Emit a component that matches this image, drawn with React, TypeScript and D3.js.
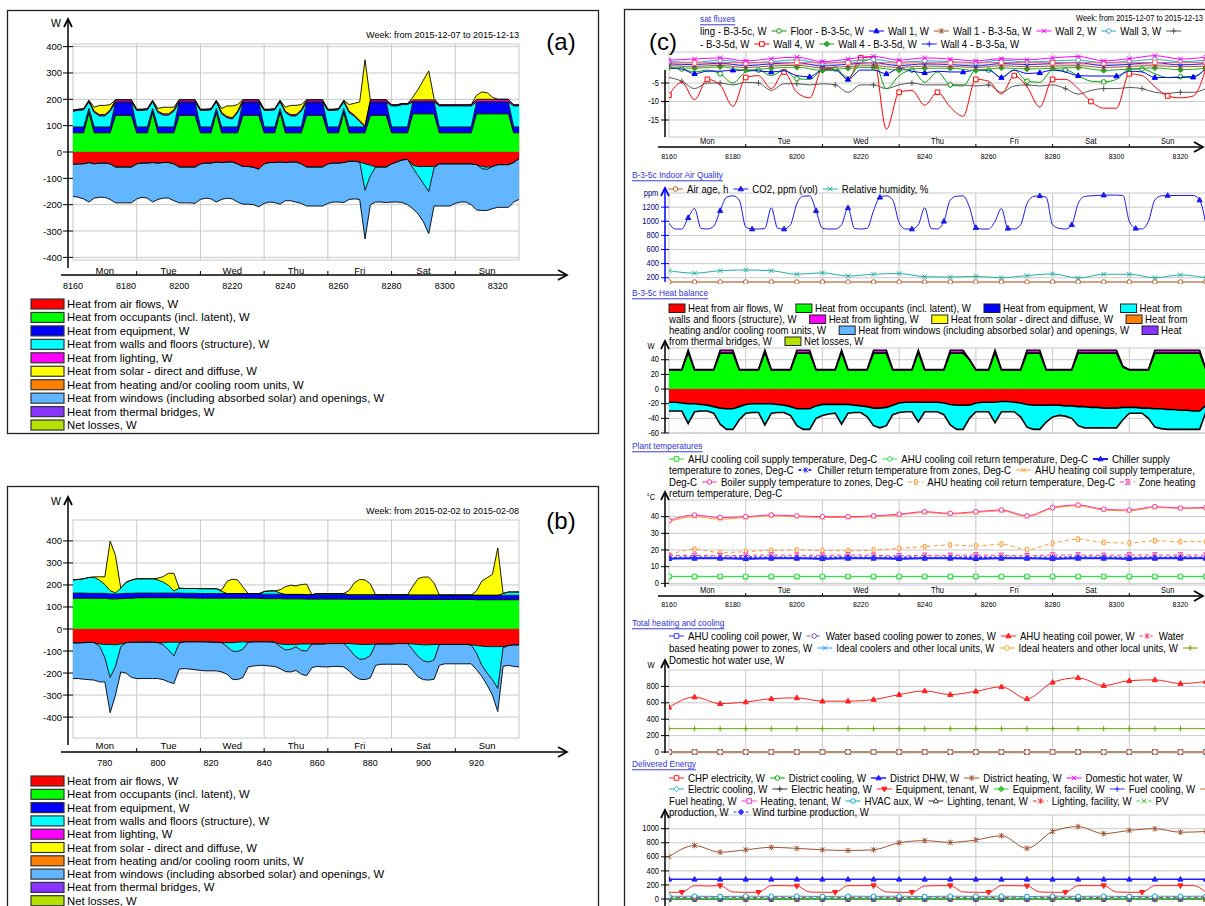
import { useEffect, useRef } from "react";
import * as d3 from "d3";

const FONT = "'Liberation Sans', Arial, Helvetica, sans-serif";
const DAYS = ["Mon", "Tue", "Wed", "Thu", "Fri", "Sat", "Sun"];

const heatNames = [
  "Heat from air flows, W",
  "Heat from occupants (incl. latent), W",
  "Heat from equipment, W",
  "Heat from walls and floors (structure), W",
  "Heat from lighting, W",
  "Heat from solar - direct and diffuse, W",
  "Heat from heating and/or cooling room units, W",
  "Heat from windows (including absorbed solar) and openings, W",
  "Heat from thermal bridges, W",
  "Net losses, W",
];
const heatColors = ["#ff0000", "#00ff00", "#0000ff", "#00ffff", "#ff00ff", "#ffff00", "#ff8000", "#62b6ff", "#8833ff", "#b5e000"];

// ---------- (a) week 2015-12-07 .. 2015-12-13 (hour of year, 2 h steps)
const hoursA = d3.range(8160, 8329, 2);
const occA = [
  73, 73, 73, 150, 73, 73, 73, 73, 139, 139, 139, 139,
  73, 73, 73, 150, 73, 73, 73, 73, 139, 139, 139, 139,
  73, 73, 73, 150, 73, 73, 73, 73, 139, 139, 139, 139,
  73, 73, 73, 150, 73, 73, 73, 73, 139, 139, 139, 139,
  73, 73, 73, 150, 73, 73, 73, 73, 139, 139, 139, 139,
  73, 73, 73, 73, 145, 145, 145, 145, 145, 73, 73, 73,
  73, 73, 73, 73, 145, 145, 145, 145, 145, 145, 145, 73,
  73,
];
const equipA = [
  22, 22, 22, 15, 22, 22, 22, 22, 50, 50, 50, 50,
  22, 22, 22, 15, 22, 22, 22, 22, 50, 50, 50, 50,
  22, 22, 22, 15, 22, 22, 22, 22, 50, 50, 50, 50,
  22, 22, 22, 15, 22, 22, 22, 22, 50, 50, 50, 50,
  22, 22, 22, 15, 22, 22, 22, 22, 50, 50, 50, 50,
  22, 22, 22, 22, 45, 45, 45, 45, 45, 22, 22, 22,
  22, 22, 22, 22, 45, 45, 45, 45, 45, 45, 45, 22,
  22,
];
const wallsGainA = [
  60, 63, 65, 25, 55, 42, 42, 60, 0, 0, 0, 0,
  63, 63, 65, 25, 55, 45, 45, 60, 0, 0, 0, 0,
  63, 63, 65, 25, 50, 35, 30, 55, 0, 0, 0, 0,
  63, 63, 65, 25, 55, 42, 42, 60, 0, 0, 0, 0,
  63, 63, 65, 25, 55, 40, 20, 0, 0, 0, 0, 0,
  80, 80, 85, 85, 0, 0, 0, 0, 0, 80, 80, 80,
  80, 80, 80, 80, 0, 0, 0, 0, 0, 0, 0, 80,
  80,
];
const wallsLossA = [
  0, 0, 0, 0, 0, 0, 0, 0, 0, 0, 0, 0,
  0, 0, 0, 0, 0, 0, 0, 0, 0, 0, 0, 0,
  0, 0, 0, 0, 0, 0, 0, 0, 0, 0, 0, 0,
  0, 0, 0, 0, 0, 0, 0, 0, 0, 0, 0, 0,
  0, 0, 0, 0, 0, 0, 0, -100, -40, 0, 0, 0,
  0, 0, 0, 0, -10, -35, -65, -95, -5, 0, 0, 0,
  0, 0, 0, 0, 0, -8, -8, 0, 0, 0, 0, 0,
  0,
];
const lightA = [
  4, 4, 4, 6, 5, 5, 5, 5, 9, 9, 9, 9,
  4, 4, 4, 6, 5, 5, 5, 5, 9, 9, 9, 9,
  4, 4, 4, 6, 5, 5, 5, 5, 9, 9, 9, 9,
  4, 4, 4, 6, 5, 5, 5, 5, 9, 9, 9, 9,
  4, 4, 4, 6, 5, 5, 5, 5, 9, 9, 9, 9,
  4, 4, 4, 4, 8, 8, 8, 8, 8, 4, 4, 4,
  4, 4, 4, 4, 10, 10, 10, 10, 10, 10, 10, 4,
  4,
];
const solarA = [
  0, 0, 0, 0, 15, 35, 35, 20, 0, 0, 0, 0,
  0, 0, 0, 0, 10, 25, 25, 10, 0, 0, 0, 0,
  0, 0, 0, 0, 15, 40, 45, 25, 0, 0, 0, 0,
  0, 0, 0, 0, 15, 35, 35, 20, 0, 0, 0, 0,
  0, 0, 0, 0, 25, 45, 70, 250, 0, 0, 0, 0,
  0, 0, 0, 0, 10, 40, 75, 110, 5, 0, 0, 0,
  0, 0, 0, 0, 15, 28, 25, 8, 0, 0, 0, 0,
  0,
];
const airA = [
  -47, -45, -45, -40, -45, -42, -42, -45, -57, -57, -57, -57,
  -45, -42, -42, -40, -42, -40, -40, -45, -57, -57, -57, -57,
  -45, -42, -42, -38, -40, -38, -38, -45, -55, -55, -58, -65,
  -45, -40, -40, -38, -40, -38, -38, -45, -57, -57, -57, -57,
  -45, -42, -42, -40, -35, -35, -38, -45, -50, -57, -57, -57,
  -45, -38, -30, -28, -50, -55, -55, -55, -55, -45, -45, -45,
  -45, -45, -45, -45, -48, -55, -58, -55, -48, -48, -48, -40,
  -25,
];
const windowsA = [
  -121, -127, -133, -150, -130, -130, -130, -135, -136, -136, -136, -136,
  -133, -130, -133, -150, -138, -135, -135, -140, -136, -136, -136, -138,
  -135, -133, -136, -152, -140, -137, -140, -145, -143, -143, -142, -143,
  -150, -150, -152, -160, -145, -147, -152, -150, -148, -148, -148, -148,
  -150, -148, -148, -152, -145, -143, -142, -185, -110, -133, -133, -135,
  -145, -152, -162, -172, -155, -145, -145, -160, -145, -160, -160, -160,
  -150, -145, -145, -155, -172, -159, -156, -160, -162, -162, -162, -150,
  -155,
];

// ---------- (b) week 2015-02-02 .. 2015-02-08
const hoursB = d3.range(768, 937, 2);
const occB = [
  140, 140, 140, 140, 140, 140, 140, 137, 137, 138, 140, 140,
  142, 142, 142, 142, 142, 142, 142, 142, 142, 141, 141, 141,
  140, 140, 140, 140, 140, 140, 140, 140, 140, 140, 140, 139,
  138, 138, 138, 138, 137, 137, 137, 137, 136, 136, 136, 136,
  136, 136, 136, 136, 135, 135, 135, 135, 135, 135, 135, 135,
  135, 135, 135, 135, 134, 134, 134, 134, 134, 134, 134, 134,
  134, 134, 134, 134, 133, 133, 133, 133, 133, 133, 133, 133,
  133,
];
const equipB = [
  23, 23, 23, 22, 22, 22, 22, 22, 22, 22, 22, 22,
  21, 21, 21, 21, 21, 21, 21, 21, 21, 21, 21, 21,
  21, 21, 21, 21, 21, 21, 21, 21, 21, 21, 21, 21,
  20, 20, 20, 20, 20, 20, 20, 20, 20, 20, 20, 20,
  20, 20, 20, 20, 20, 20, 20, 20, 20, 20, 20, 20,
  20, 20, 20, 20, 20, 20, 20, 20, 20, 20, 20, 20,
  20, 20, 20, 20, 20, 20, 20, 20, 20, 20, 20, 20,
  20,
];
const wallsGainB = [
  60, 62, 65, 72, 72, 60, 40, 15, 5, 25, 50, 60,
  65, 65, 65, 65, 60, 50, 35, 10, 22, 22, 22, 22,
  22, 22, 22, 22, 10, 0, 0, 0, 0, 0, 0, 0,
  12, 15, 15, 5, 0, 0, 0, 0, 0, 0, 5, 5,
  5, 5, 5, 5, 0, 0, 0, 0, 0, 0, 0, 0,
  0, 0, 0, 0, 0, 0, 0, 0, 0, 0, 0, 0,
  0, 0, 0, 0, 0, 0, 0, 0, 0, 8, 15, 15,
  15,
];
const solarB = [
  0, 0, 0, 0, 3, 15, 35, 225, 170, 0, 0, 0,
  0, 0, 0, 0, 8, 25, 55, 80, 0, 0, 0, 0,
  0, 0, 0, 0, 5, 55, 65, 62, 30, 0, 0, 0,
  0, 0, 0, 15, 35, 42, 38, 45, 48, 0, 0, 0,
  0, 0, 0, 0, 20, 55, 70, 68, 50, 0, 0, 0,
  0, 0, 0, 0, 40, 75, 82, 82, 55, 0, 0, 0,
  0, 0, 0, 0, 20, 65, 80, 95, 215, 0, 0, 0,
  0,
];
const airB = [
  -63, -63, -62, -60, -62, -68, -70, -70, -72, -68, -62, -60,
  -60, -60, -60, -60, -62, -62, -60, -60, -60, -58, -58, -58,
  -58, -58, -60, -60, -62, -62, -62, -60, -58, -60, -58, -58,
  -58, -58, -60, -68, -70, -70, -70, -68, -68, -68, -68, -68,
  -66, -66, -66, -66, -66, -68, -70, -70, -70, -68, -68, -68,
  -68, -66, -66, -66, -68, -70, -72, -72, -70, -70, -70, -70,
  -70, -70, -70, -72, -75, -78, -80, -80, -80, -80, -75, -72,
  -72,
];
const wallsLossB = [
  0, 0, 0, 0, 0, -10, -60, -150, -98, -12, 0, 0,
  0, 0, 0, 0, 0, -10, -35, -62, -5, 0, 0, 0,
  0, 0, 0, 0, 0, -18, -38, -42, -34, 0, 0, 0,
  0, 0, 0, -12, -25, -22, -10, -30, -32, 0, 0, 0,
  0, 0, 0, 0, -24, -52, -68, -65, -50, 0, 0, 0,
  0, 0, 0, 0, -27, -55, -73, -78, -70, 0, 0, 0,
  0, 0, 0, 0, -35, -87, -120, -150, -190, -5, 0, 0,
  0,
];
const windowsB = [
  -162, -162, -166, -170, -170, -162, -110, -160, -130, -115, -138, -160,
  -165, -165, -165, -165, -163, -158, -145, -126, -117, -122, -124, -127,
  -130, -132, -130, -130, -133, -125, -128, -128, -128, -112, -110, -107,
  -107, -110, -110, -100, -98, -103, -108, -107, -112, -107, -102, -104,
  -106, -104, -104, -106, -100, -95, -90, -95, -102, -97, -92, -92,
  -92, -94, -94, -96, -95, -93, -85, -82, -88, -95, -88, -88,
  -88, -88, -88, -86, -75, -50, -55, -70, -105, -85, -90, -98,
  -100,
];

// ---------- (c) heat fluxes, W (4 h steps, 43 points)
const hfWall4 = [-8.3, -4.8, -9.5, -4, -5.5, -11.3, -3.5, -3, -6.5, -2, -7.5, -9, -1.2, -1, -4, 1.8, 2, -17.5, -7.5, -7, -11, -7.5, -11.5, -14, -4, -4.5, -8, -3, -6, -11.5, -4, -4, -6.5, -10, -11.8, -11.8, -2.5, -3, -6, -8.5, -9, -8.5, -1];
const hfCeilD = [-3.5, -4.5, -6.5, -5, -5, -5.5, -4.8, -5, -7, -5.2, -5.2, -5.5, -5.2, -5.5, -7.5, -5.5, -5.5, -6.5, -5.5, -5, -5.5, -5.5, -5.5, -5.5, -5.8, -5.5, -7.5, -5.8, -5.5, -5.8, -5.5, -6.5, -8, -7, -6.5, -6.5, -6.2, -6.5, -7.5, -7.8, -7.5, -7.5, -6.5];
const hfFloor = [-1, -1.2, -2, -1.5, -2.5, -5, -2, -1.5, -3, -1.5, -3.8, -4, -1.5, -1.2, -3.5, 0.5, 1.5, -6.5, -3, -1.5, -4.8, -2, -5.5, -5.8, -1.5, -1.5, -3.5, -1.5, -4.5, -4.8, -1.5, -1.5, -3, -4.5, -4.7, -4, -1.2, -1.2, -2.5, -3.5, -3.3, -3.2, -1];
const hfWall1 = [-1, -1.2, -2.5, -1.8, -1.8, -1.5, -1.6, -1.7, -2, -1.7, -3, -3.3, -1.5, -1.5, -4, -1.5, -1.5, -2.5, -1, -1.8, -2.2, -1.8, -2, -2, -1.5, -1.5, -3.5, -1.5, -2.4, -2.2, -1.5, -2, -3, -3.1, -3.1, -3.1, -1.8, -2, -3.5, -3.5, -3.5, -3.4, -1];
// 8 h steps, 22 points
const hfCeilC = [0.5, 0.4, 0.6, 0.4, 0.5, 0.6, 0.4, 0.5, 0.6, 0.4, 0.5, 0.5, 0.4, 0.6, 0.5, 0.5, 0.6, 0.4, 0.5, 0.6, 0.5, 0.6];
const hfWall1a = [-0.3, -0.5, -0.2, -0.8, -0.4, -0.2, -0.9, -0.5, -0.3, -0.8, -0.4, -0.5, -0.8, -0.3, -0.6, -0.4, -0.3, -0.8, -0.5, -0.3, -0.6, -0.4];
const hfWall2 = [1.2, 1.5, 1.8, 1.0, 1.6, 2.0, 0.8, 1.5, 2.2, 1.2, 1.8, 1.5, 1.0, 1.6, 1.3, 1.8, 2.2, 1.0, 1.6, 2.4, 1.5, 2.0];
const hfWall3 = [0.8, 0.6, 1.2, 0.5, 0.8, 1.3, 0.4, 0.9, 1.4, 0.6, 1.0, 0.8, 0.5, 1.2, 0.7, 1.0, 1.2, 0.5, 0.9, 1.4, 0.8, 1.2];
const hfWall4d = [-0.8, -1.0, -0.6, -1.5, -1.0, -0.7, -1.6, -1.0, -0.8, -1.5, -1.0, -1.0, -1.6, -0.9, -1.2, -1.0, -0.8, -1.6, -1.2, -0.9, -1.4, -1.0];
const hfWall4a = [0.2, 0.0, 0.4, -0.3, 0.2, 0.5, -0.4, 0.1, 0.5, -0.3, 0.2, 0.0, -0.4, 0.3, 0.0, 0.3, 0.5, -0.3, 0.1, 0.5, -0.1, 0.3];

// ---------- (c) indoor air quality
const iaqCo2 = [
  970, 890, 890, 1050, 1180, 900, 890, 930, 1150, 1340, 1360, 1300, 920,
  890, 890, 900, 1190, 900, 890, 950, 1250, 1355, 1360, 1150, 900,
  890, 890, 950, 1190, 900, 890, 900, 1150, 1340, 1360, 1300, 980,
  890, 890, 950, 1190, 900, 890, 1000, 1300, 1355, 1360, 1200, 910,
  890, 890, 1000, 1180, 900, 890, 950, 1250, 1350, 1360, 1340, 950,
  900, 890, 950, 1250, 1350, 1360, 1365, 1370, 1370, 1370, 1365, 1000,
  900, 890, 1000, 1300, 1360, 1365, 1365, 1365, 1365, 1365, 1300, 950,
];
const iaqRh = [300, 265, 300, 310, 300, 250, 270, 225, 250, 260, 215, 210, 220, 200, 230, 255, 195, 250, 250, 200, 240, 200];
const iaqAge = [0.6, 0.6, 0.6, 0.6, 0.6, 0.6, 0.6, 0.6, 0.6, 0.6, 0.6, 0.6, 0.6, 0.6, 0.6, 0.6, 0.6, 0.6, 0.6, 0.6, 0.6, 0.6];

// ---------- (c) zone heat balance (2 h steps)
const occC = [
  26, 26, 26, 50, 26, 26, 26, 26, 49, 49, 49, 26,
  26, 26, 26, 50, 26, 26, 26, 26, 49, 49, 49, 26,
  26, 26, 26, 50, 26, 26, 26, 26, 49, 49, 49, 26,
  26, 26, 26, 50, 26, 26, 26, 26, 49, 49, 49, 40,
  26, 26, 26, 50, 26, 26, 26, 26, 49, 49, 49, 26,
  26, 26, 26, 26, 49, 49, 49, 49, 49, 49, 49, 30,
  26, 26, 26, 26, 49, 49, 49, 49, 49, 49, 49, 49,
  26,
];
const lightC = [
  0.5, 0.5, 0.5, 3, 0.5, 0.5, 0.5, 0.5, 4, 4, 4, 0.5,
  0.5, 0.5, 0.5, 3, 0.5, 0.5, 0.5, 0.5, 4, 4, 4, 0.5,
  0.5, 0.5, 0.5, 3, 0.5, 0.5, 0.5, 0.5, 4, 4, 4, 0.5,
  0.5, 0.5, 0.5, 3, 0.5, 0.5, 0.5, 0.5, 4, 4, 4, 0.5,
  0.5, 0.5, 0.5, 3, 0.5, 0.5, 0.5, 0.5, 4, 4, 4, 0.5,
  0.5, 0.5, 0.5, 0.5, 4, 4, 4, 4, 4, 4, 4, 1,
  0.5, 0.5, 0.5, 0.5, 4, 4, 4, 4, 4, 4, 4, 4,
  0.5,
];
const airC = [
  -18, -18, -19, -20, -20, -21, -22, -24, -26, -27, -27, -24,
  -21, -20, -20, -20, -20, -21, -22, -24, -27, -27, -27, -23,
  -21, -21, -21, -21, -21, -22, -23, -24, -26, -26, -25, -22,
  -19, -18, -18, -18, -18, -18, -18, -19, -21, -22, -22, -22,
  -19, -18, -18, -18, -17, -17, -18, -19, -21, -22, -22, -22,
  -22, -22, -23, -23, -24, -24, -25, -25, -26, -26, -26, -25,
  -25, -25, -26, -26, -27, -27, -28, -28, -29, -29, -30, -30,
  -22,
];
const wallsC = [
  -12, -12, -11, -27, -11, -9, -8, -9, -22, -28, -28, -18,
  -12, -12, -12, -29, -13, -11, -10, -12, -23, -28, -28, -17,
  -15, -13, -12, -27, -12, -10, -9, -14, -24, -27, -25, -13,
  -13, -13, -13, -27, -13, -13, -13, -16, -28, -33, -33, -18,
  -12, -13, -13, -28, -14, -14, -13, -19, -31, -33, -33, -23,
  -16, -14, -14, -17, -26, -29, -28, -28, -27, -27, -27, -17,
  -8, -8, -7, -14, -25, -27, -27, -27, -26, -26, -25, -25,
  -9,
];

// ---------- (c) plant temperatures, Deg-C (8 h steps)
const ptCoolSup = [4, 4, 4, 4, 4, 4, 4, 4, 4, 4, 4, 4, 4, 4, 4, 4, 4, 4, 4, 4, 4, 4];
const ptCoolRet = [4.2, 4.2, 4.2, 4.2, 4.2, 4.2, 4.2, 4.2, 4.2, 4.2, 4.2, 4.2, 4.2, 4.2, 4.2, 4.2, 4.2, 4.2, 4.2, 4.2, 4.2, 4.2];
const ptChSup = [14.8, 15, 15, 14.8, 15, 15, 14.8, 15, 15, 14.8, 15, 15, 14.8, 15, 15, 14.8, 15, 15, 14.8, 15, 15, 15];
const ptChRet = [15.3, 15.5, 15.4, 15.6, 15.5, 15.4, 15.5, 15.6, 15.4, 15.5, 15.4, 15.5, 15.6, 15.5, 15.4, 15.5, 15.6, 15.5, 15.4, 15.5, 15.6, 15.5];
const ptAhuHeatSup = [37, 40, 38.5, 39.5, 40.5, 40, 39.5, 39.5, 40, 41, 42.5, 41.5, 42.5, 43.5, 40, 45, 46.5, 44, 43.5, 45.5, 45, 45];
const ptBoiler = [37.7, 41, 39.5, 40, 41, 40.5, 40, 40, 40.5, 41.5, 43, 42, 43, 44, 40.5, 45.5, 47, 44.5, 44, 46, 45.2, 45.5];
const ptAhuHeatRet = [17, 20.5, 18.5, 19, 19.8, 20, 19.8, 19.5, 20, 21, 22, 23, 22.4, 23.5, 20.2, 24, 26.5, 24.5, 24.2, 25.5, 25, 25];
const ptZoneRet = [16.5, 16.8, 16.5, 16.8, 17, 16.8, 16.8, 17, 16.8, 16.5, 16.8, 16.8, 17, 16.8, 16.5, 17, 17, 16.8, 17, 17, 17, 17];

// ---------- (c) total heating and cooling, W (8 h steps)
const thAhuHeat = [545, 670, 590, 610, 650, 660, 620, 620, 640, 700, 745, 700, 740, 795, 650, 850, 905, 810, 870, 880, 835, 860];
const thDhw = [285, 285, 285, 285, 285, 285, 285, 285, 285, 285, 285, 285, 285, 285, 285, 285, 285, 285, 285, 285, 285, 285];
const thZero = [0, 0, 0, 0, 0, 0, 0, 0, 0, 0, 0, 0, 0, 0, 0, 0, 0, 0, 0, 0, 0, 0];

// ---------- (c) delivered energy, W
const deDistHeat = [602, 760, 665, 700, 735, 720, 700, 690, 700, 800, 830, 805, 840, 900, 720, 960, 1030, 930, 975, 1000, 950, 960];
const deDistDhw = [280, 280, 280, 280, 280, 280, 280, 280, 280, 280, 280, 280, 280, 280, 280, 280, 280, 280, 280, 280, 280, 280];
const deEquipTen = [
  95, 95, 190, 185, 190, 100,
  95, 95, 190, 190, 185, 100,
  95, 95, 190, 190, 190, 100,
  95, 95, 185, 190, 190, 100,
  95, 95, 190, 190, 185, 100,
  95, 95, 190, 190, 190, 100,
  95, 95, 190, 190, 190, 190,
  95,
];
const deHvac = [38, 40, 36, 40, 38, 40, 36, 40, 38, 40, 36, 40, 38, 40, 36, 40, 38, 40, 36, 40, 38, 40];
const deLightFac = [25, 20, 28, 20, 25, 20, 28, 20, 25, 20, 28, 20, 25, 20, 28, 20, 25, 20, 28, 20, 25, 20];
const deSmall = [8, 6, 9, 6, 8, 6, 9, 6, 8, 6, 9, 6, 8, 6, 9, 6, 8, 6, 9, 6, 8, 6];

// ================= drawing helpers
function text(g: any, x: number, y: number, s: string, o: any = {}) {
  const sx = o.sx ?? 1;
  const t = g
    .append("text")
    .attr("transform", `translate(${x},${y}) scale(${sx},1)`)
    .attr("font-family", FONT)
    .attr("font-size", o.size ?? 11)
    .attr("fill", o.color ?? "#000")
    .attr("text-anchor", o.anchor ?? "start")
    .attr("dominant-baseline", "central")
    .text(s);
  if (o.underline) t.attr("text-decoration", "underline");
  return t;
}

function arrowUp(g: any, x: number, y: number, c = "#000") {
  g.append("path").attr("d", `M${x - 4},${y + 8}L${x},${y}L${x + 4},${y + 8}`)
    .attr("fill", "none").attr("stroke", c).attr("stroke-width", 1.7);
}
function arrowRight(g: any, x: number, y: number) {
  g.append("path").attr("d", `M${x - 9},${y - 5}L${x},${y}L${x - 9},${y + 5}`)
    .attr("fill", "none").attr("stroke", "#000").attr("stroke-width", 1.7);
}

function mark(g: any, m: string, x: number, y: number, c: string, r = 2.3) {
  if (m === "none") return;
  let d = "";
  let fill = "none";
  switch (m) {
    case "sq": d = `M${x - r},${y - r}h${2 * r}v${2 * r}h${-2 * r}Z`; fill = "#fff"; break;
    case "ci": d = `M${x - r},${y}a${r},${r} 0 1,0 ${2 * r},0a${r},${r} 0 1,0 ${-2 * r},0`; fill = "#fff"; break;
    case "tri": d = `M${x},${y - r - 0.5}L${x + r + 0.3},${y + r - 0.5}L${x - r - 0.3},${y + r - 0.5}Z`; fill = c; break;
    case "triO": d = `M${x},${y - r - 0.5}L${x + r + 0.3},${y + r - 0.5}L${x - r - 0.3},${y + r - 0.5}Z`; fill = "#fff"; break;
    case "triD": d = `M${x},${y + r + 0.5}L${x + r + 0.3},${y - r + 0.5}L${x - r - 0.3},${y - r + 0.5}Z`; fill = c; break;
    case "dia": d = `M${x},${y - r - 0.5}L${x + r + 0.5},${y}L${x},${y + r + 0.5}L${x - r - 0.5},${y}Z`; fill = "#fff"; break;
    case "diaF": d = `M${x},${y - r - 0.5}L${x + r + 0.5},${y}L${x},${y + r + 0.5}L${x - r - 0.5},${y}Z`; fill = c; break;
    case "x": d = `M${x - r},${y - r}L${x + r},${y + r}M${x - r},${y + r}L${x + r},${y - r}`; break;
    case "plus": d = `M${x - r},${y}H${x + r}M${x},${y - r - 0.5}V${y + r + 0.5}`; break;
    case "star": d = `M${x - r},${y - r}L${x + r},${y + r}M${x - r},${y + r}L${x + r},${y - r}M${x},${y - r - 0.5}V${y + r + 0.5}`; break;
    case "bar": d = `M${x - 1.3},${y - r}h2.6v${2 * r}h-2.6Z`; fill = "#fff"; break;
    case "hour": d = `M${x - r},${y - r}H${x + r}L${x - r},${y + r}H${x + r}Z`; fill = "#fff"; break;
  }
  g.append("path").attr("d", d).attr("fill", fill).attr("stroke", c).attr("stroke-width", 1);
}

function stackLayers(layers: any[]) {
  const n = layers[0].values.length;
  const pos = new Array(n).fill(0);
  const neg = new Array(n).fill(0);
  return layers.map((l) => ({
    ...l,
    band: l.values.map((v: number, i: number) => {
      if (l.side > 0) {
        const lo = pos[i];
        pos[i] += v;
        return [lo, pos[i]];
      }
      const hi = neg[i];
      neg[i] += v;
      return [neg[i], hi];
    }),
  }));
}

// fills first, then a thin black edge on the outer side of each layer
function drawStack(g: any, hours: number[], x: any, y: any, layers: any[], edgeW: number) {
  const area = d3.area<number[]>().x((_, i) => x(hours[i])).y0((d) => y(d[0])).y1((d) => y(d[1]));
  const bands = stackLayers(layers);
  bands.forEach((b) => g.append("path").attr("d", area(b.band)).attr("fill", b.color).attr("stroke", b.color).attr("stroke-width", 0.3));
  bands.forEach((b) => {
    const edge = d3.line<number[]>().x((_, i) => x(hours[i])).y((d) => y(b.side > 0 ? d[1] : d[0]));
    g.append("path").attr("d", edge(b.band)).attr("fill", "none").attr("stroke", "#000").attr("stroke-width", edgeW);
  });
}

// ================= panels (a) and (b)
function stackPanel(svg: any, c: any) {
  const g = svg.append("g");
  g.append("rect").attr("x", c.box[0] + 0.5).attr("y", c.box[1] + 0.5).attr("width", c.box[2]).attr("height", c.box[3])
    .attr("fill", "#fff").attr("stroke", "#222").attr("stroke-width", 1.3);
  const [px0, px1, py0, py1] = c.plot;
  const h0 = c.hours[0];
  const x = d3.scaleLinear().domain([h0, c.hours[c.hours.length - 1]]).range([px0, px1]);
  const y = d3.scaleLinear().domain(c.yDomain).range([py1, py0]);
  const ticks = d3.range(-400, 401, 100);
  const edges = d3.range(1, 7).map((d) => h0 + 24 * d);

  const grid = g.append("g").attr("stroke", "#c9c9c9").attr("fill", "none");
  grid.append("rect").attr("x", px0).attr("y", py0).attr("width", px1 - px0).attr("height", py1 - py0);
  ticks.forEach((v) => grid.append("line").attr("x1", px0).attr("x2", px1).attr("y1", y(v)).attr("y2", y(v)));
  edges.forEach((h) => grid.append("line").attr("x1", x(h)).attr("x2", x(h)).attr("y1", py0).attr("y2", py1));

  drawStack(g, c.hours, x, y, c.layers, 0.9);

  // y axis
  g.append("line").attr("x1", c.yAxisX).attr("x2", c.yAxisX).attr("y1", c.yAxisTop).attr("y2", c.yAxisBottom)
    .attr("stroke", "#000").attr("stroke-width", 1.5);
  arrowUp(g, c.yAxisX, c.yAxisTop);
  text(g, c.yAxisX - 12, c.yAxisTop + 4, "W", { size: 10.5, anchor: "middle" });
  ticks.forEach((v) => {
    g.append("line").attr("x1", c.yAxisX - 5).attr("x2", px0).attr("y1", y(v)).attr("y2", y(v)).attr("stroke", "#000");
    text(g, c.yAxisX - 6, y(v), String(v), { size: 9.5, anchor: "end" });
  });

  // x axis
  g.append("line").attr("x1", 61).attr("x2", 566).attr("y1", c.xAxisY).attr("y2", c.xAxisY).attr("stroke", "#000").attr("stroke-width", 1.5);
  arrowRight(g, 567, c.xAxisY);
  edges.forEach((h) => g.append("line").attr("x1", x(h)).attr("x2", x(h)).attr("y1", c.xAxisY - 4).attr("y2", c.xAxisY).attr("stroke", "#000"));
  DAYS.forEach((d, i) => text(g, x(h0 + 24 * i + 12), c.dayY, d, { size: 9.5, anchor: "middle" }));
  c.numTicks.forEach((v: number) => text(g, x(v), c.numY, String(v), { size: 9, anchor: "middle" }));

  text(g, px1, c.weekY, c.week, { size: 9, anchor: "end" });
  text(g, 561, c.letterY, c.letter, { size: 24, anchor: "middle" });

  // legend
  heatNames.forEach((nm, i) => {
    const ly = c.legY + i * c.legDy;
    g.append("rect").attr("x", 31).attr("y", ly - 5).attr("width", 33).attr("height", 10)
      .attr("fill", heatColors[i]).attr("stroke", "#333").attr("stroke-width", 1.2);
    text(g, 67, ly, nm, { size: 11.3 });
  });
}

// ================= panel (c)
const CX0 = 669;
const CX1 = 1206;
const EDGES_C = [8184, 8208, 8232, 8256, 8280, 8304];
const SX = 0.92;

function frameC(g: any, x: any, y: any, top: number, bottom: number, grid: number[]) {
  const gg = g.append("g").attr("stroke", "#c9c9c9").attr("fill", "none");
  gg.append("rect").attr("x", CX0).attr("y", top).attr("width", CX1 - CX0).attr("height", bottom - top);
  grid.forEach((v) => gg.append("line").attr("x1", CX0).attr("x2", CX1).attr("y1", y(v)).attr("y2", y(v)));
  EDGES_C.forEach((h) => gg.append("line").attr("x1", x(h)).attr("x2", x(h)).attr("y1", top).attr("y2", bottom));
}

function yAxisC(g: any, y: any, o: any) {
  const col = o.color ?? "#000";
  g.append("line").attr("x1", 665).attr("x2", 665).attr("y1", o.top).attr("y2", o.bottom).attr("stroke", col).attr("stroke-width", 1.5);
  if (o.arrow) arrowUp(g, 665, o.top, col);
  o.ticks.forEach((v: number) => {
    g.append("line").attr("x1", 661).attr("x2", 669).attr("y1", y(v)).attr("y2", y(v)).attr("stroke", col);
    text(g, 659, y(v), String(v), { size: 8.5, sx: 0.88, anchor: "end", color: o.labelColor ?? "#000" });
  });
  if (o.unit) text(g, 651, o.top + 5, o.unit, { size: 8.5, sx: 0.88, anchor: "middle", color: o.labelColor ?? "#000" });
}

function xAxisC(g: any, x: any, dayY: number, axisY: number, numY: number) {
  DAYS.forEach((d, i) => text(g, x(8160 + 24 * i + 12), dayY, d, { size: 8.5, sx: 0.88, anchor: "middle" }));
  g.append("line").attr("x1", 658).attr("x2", 1202).attr("y1", axisY).attr("y2", axisY).attr("stroke", "#000").attr("stroke-width", 1.4);
  arrowRight(g, 1203, axisY);
  EDGES_C.forEach((h) => g.append("line").attr("x1", x(h)).attr("x2", x(h)).attr("y1", axisY - 3).attr("y2", axisY).attr("stroke", "#000"));
  d3.range(8160, 8321, 20).forEach((v) => text(g, x(v), numY, String(v), { size: 8, sx: 0.88, anchor: "middle" }));
}

function drawLines(g: any, x: any, y: any, series: any[]) {
  series.forEach((s) => {
    const n = s.values.length;
    const hx = (i: number) => 8160 + (i * 168) / (n - 1);
    const line = d3.line<number>().x((_, i) => x(hx(i))).y((v) => y(v)).curve(d3.curveMonotoneX);
    g.append("path").attr("d", line(s.values)).attr("fill", "none").attr("stroke", s.color)
      .attr("stroke-width", s.w ?? 1).attr("stroke-dasharray", s.dash ?? null);
    const every = s.every ?? 1;
    const off = s.off ?? 0;
    s.values.forEach((v: number, i: number) => {
      if (i >= off && (i - off) % every === 0) mark(g, s.mark, x(hx(i)), y(v), s.color);
    });
  });
}

function legendRow(g: any, x0: number, y: number, parts: any[]) {
  let cx = x0;
  parts.forEach((p, k) => {
    if (typeof p === "string") {
      const t = text(g, cx, y, p, { size: 10.5, sx: SX });
      const next = parts[k + 1];
      cx += t.node().getComputedTextLength() * SX + (next && next.sw ? 13 : 5);
    } else if (p.sw) {
      g.append("rect").attr("x", cx).attr("y", y - 4).attr("width", 16).attr("height", 8.5)
        .attr("fill", p.sw).attr("stroke", "#222");
      cx += 19;
    } else {
      g.append("line").attr("x1", cx).attr("x2", cx + 15).attr("y1", y).attr("y2", y)
        .attr("stroke", p.color).attr("stroke-width", p.w ?? 1).attr("stroke-dasharray", p.dash ?? null);
      mark(g, p.mark, cx + 7.5, y, p.color);
      cx += 19;
    }
  });
}

function clip(svg: any, id: string, top: number, bottom: number) {
  svg.select("defs").append("clipPath").attr("id", id).append("rect")
    .attr("x", CX0).attr("y", top).attr("width", CX1 - CX0).attr("height", bottom - top);
  return `url(#${id})`;
}

function panelC(svg: any) {
  const g = svg.append("g");
  g.append("rect").attr("x", 624.5).attr("y", 9.5).attr("width", 700).attr("height", 1000)
    .attr("fill", "#fff").attr("stroke", "#222").attr("stroke-width", 1.3);
  const x = d3.scaleLinear().domain([8160, 8328]).range([CX0, CX1]);
  const titleOpts = { size: 9.5, sx: 0.88, color: "#3333dd", underline: true };

  // ---- heat fluxes
  const hf = {
    ceilC: { color: "#ff6060", mark: "sq", values: hfCeilC, off: 1, every: 2 },
    floor: { color: "#00a000", mark: "ci", values: hfFloor, every: 3, off: 1 },
    wall1: { color: "#0000ff", mark: "tri", values: hfWall1, every: 3, off: 2 },
    wall1a: { color: "#a0522d", mark: "star", values: hfWall1a },
    wall2: { color: "#ff00ff", mark: "x", values: hfWall2 },
    wall3: { color: "#22aacc", mark: "dia", values: hfWall3 },
    ceilD: { color: "#555555", mark: "plus", values: hfCeilD, every: 3, off: 1 },
    wall4: { color: "#ff0000", mark: "sq", values: hfWall4, every: 3, off: 0 },
    wall4d: { color: "#22aa22", mark: "diaF", values: hfWall4d },
    wall4a: { color: "#2222ff", mark: "plus", values: hfWall4a },
  };
  const yHF = d3.scaleLinear().domain([-19.6, 3.4]).range([137, 52]);
  frameC(g, x, yHF, 52, 137, [0, -5, -10, -15]);
  const gHF = g.append("g").attr("clip-path", clip(svg, "cHF", 52, 137));
  drawLines(gHF, x, yHF, [hf.ceilD, hf.wall4, hf.floor, hf.wall1, hf.wall4d, hf.wall1a, hf.wall4a, hf.wall3, hf.ceilC, hf.wall2]);
  yAxisC(g, yHF, { top: 70, bottom: 137, ticks: [-5, -10, -15] });
  xAxisC(g, x, 141, 147, 156);
  text(g, 700, 19, "sat fluxes", titleOpts);
  text(g, 1203, 18, "Week: from 2015-12-07 to 2015-12-13", { size: 8.5, sx: 0.88, anchor: "end" });
  text(g, 663, 41, "(c)", { size: 24, anchor: "middle" });
  legendRow(g, 700, 31, ["ling - B-3-5c, W", hf.floor, "Floor - B-3-5c, W", hf.wall1, "Wall 1, W", hf.wall1a, "Wall 1 - B-3-5a, W", hf.wall2, "Wall 2, W", hf.wall3, "Wall 3, W", hf.ceilD]);
  legendRow(g, 700, 44, ["- B-3-5d, W", hf.wall4, "Wall 4, W", hf.wall4d, "Wall 4 - B-3-5d, W", hf.wall4a, "Wall 4 - B-3-5a, W"]);

  // ---- indoor air quality
  const iaq = {
    age: { color: "#c0602a", mark: "ci", values: iaqAge },
    co2: { color: "#1a1aee", mark: "tri", values: iaqCo2, every: 5, off: 3 },
    rh: { color: "#20b0a0", mark: "x", values: iaqRh },
  };
  const yIAQ = d3.scaleLinear().domain([140, 1400]).range([282, 193]).clamp(true);
  frameC(g, x, yIAQ, 193, 282, [200, 400, 600, 800, 1000, 1200]);
  const gIAQ = g.append("g").attr("clip-path", clip(svg, "cIAQ", 190, 284));
  drawLines(gIAQ, x, yIAQ, [iaq.age, iaq.rh, iaq.co2]);
  yAxisC(g, yIAQ, { top: 188, bottom: 282, ticks: [200, 400, 600, 800, 1000, 1200], arrow: true, color: "#0000ff", labelColor: "#000080", unit: "ppm" });
  text(g, 632, 175, "B-3-5c Indoor Air Quality", titleOpts);
  legendRow(g, 668, 189, [iaq.age, "Air age, h", iaq.co2, "CO2, ppm (vol)", iaq.rh, "Relative humidity, %"]);

  // ---- heat balance
  const yHB = d3.scaleLinear().domain([-60, 56]).range([433, 348]);
  frameC(g, x, yHB, 348, 433, [-60, -40, -20, 0, 20, 40]);
  const gHB = g.append("g").attr("clip-path", clip(svg, "cHB", 348, 433));
  drawStack(gHB, hoursA, x, yHB, [
    { values: occC, side: 1, color: heatColors[1] },
    { values: lightC, side: 1, color: heatColors[4] },
    { values: airC, side: -1, color: heatColors[0] },
    { values: wallsC, side: -1, color: heatColors[3] },
  ], 1.6);
  yAxisC(g, yHB, { top: 341, bottom: 433, ticks: [-60, -40, -20, 0, 20, 40], arrow: true, unit: "W" });
  text(g, 632, 293, "B-3-5c Heat balance", titleOpts);
  const sw = (i: number) => ({ sw: heatColors[i] });
  legendRow(g, 669, 308, [sw(0), "Heat from air flows, W", sw(1), "Heat from occupants (incl. latent), W", sw(2), "Heat from equipment, W", sw(3), "Heat from"]);
  legendRow(g, 669, 319, ["walls and floors (structure), W", sw(4), "Heat from lighting, W", sw(5), "Heat from solar - direct and diffuse, W", sw(6), "Heat from"]);
  legendRow(g, 669, 330, ["heating and/or cooling room units, W", sw(7), "Heat from windows (including absorbed solar) and openings, W", sw(8), "Heat"]);
  legendRow(g, 669, 341, ["from thermal bridges, W", sw(9), "Net losses, W"]);

  // ---- plant temperatures
  const pt = {
    coolSup: { color: "#22dd22", mark: "sq", values: ptCoolSup },
    coolRet: { color: "#33dd55", mark: "ci", values: ptCoolRet, off: 0 },
    chSup: { color: "#1a1aff", mark: "tri", values: ptChSup, w: 2 },
    chRet: { color: "#3333ff", mark: "star", values: ptChRet, dash: "3,2", w: 2 },
    heatSup: { color: "#ff9933", mark: "x", values: ptAhuHeatSup },
    boiler: { color: "#ff3399", mark: "ci", values: ptBoiler },
    heatRet: { color: "#ff9933", mark: "bar", values: ptAhuHeatRet, dash: "4,3" },
    zoneRet: { color: "#ff3399", mark: "hour", values: ptZoneRet, dash: "4,3" },
  };
  const yPT = d3.scaleLinear().domain([-1, 50]).range([585, 500]);
  frameC(g, x, yPT, 500, 585, [0, 10, 20, 30, 40]);
  const gPT = g.append("g").attr("clip-path", clip(svg, "cPT", 500, 587));
  drawLines(gPT, x, yPT, [pt.coolSup, pt.coolRet, pt.heatRet, pt.zoneRet, pt.chSup, pt.chRet, pt.heatSup, pt.boiler]);
  yAxisC(g, yPT, { top: 492, bottom: 587, ticks: [0, 10, 20, 30, 40], arrow: true, unit: "°C" });
  xAxisC(g, x, 590, 596, 604);
  text(g, 632, 446, "Plant temperatures", titleOpts);
  legendRow(g, 669, 459, [pt.coolSup, "AHU cooling coil supply temperature, Deg-C", pt.coolRet, "AHU cooling coil return temperature, Deg-C", pt.chSup, "Chiller supply"]);
  legendRow(g, 669, 470, ["temperature to zones, Deg-C", pt.chRet, "Chiller return temperature from zones, Deg-C", pt.heatSup, "AHU heating coil supply temperature,"]);
  legendRow(g, 669, 482, ["Deg-C", pt.boiler, "Boiler supply temperature to zones, Deg-C", pt.heatRet, "AHU heating coil return temperature, Deg-C", pt.zoneRet, "Zone heating"]);
  legendRow(g, 669, 493, ["return temperature, Deg-C"]);

  // ---- total heating and cooling
  const th = {
    coolP: { color: "#3333ff", mark: "sq", values: thZero },
    waterCool: { color: "#7744cc", mark: "ci", values: thZero, dash: "3,2" },
    heatP: { color: "#ff2020", mark: "tri", values: thAhuHeat },
    waterHeat: { color: "#ff3366", mark: "star", values: thZero, dash: "3,2" },
    idealCool: { color: "#3399ff", mark: "x", values: thZero },
    idealHeat: { color: "#ff9900", mark: "dia", values: thZero },
    dhw: { color: "#66aa00", mark: "plus", values: thDhw },
  };
  const yTH = d3.scaleLinear().domain([-12, 1000]).range([753, 670]);
  frameC(g, x, yTH, 670, 753, [0, 200, 400, 600, 800]);
  const gTH = g.append("g").attr("clip-path", clip(svg, "cTH", 668, 756));
  drawLines(gTH, x, yTH, [th.dhw, th.coolP, th.waterCool, th.waterHeat, th.idealCool, th.idealHeat, th.heatP]);
  yAxisC(g, yTH, { top: 660, bottom: 753, ticks: [0, 200, 400, 600, 800], arrow: true, unit: "W" });
  text(g, 632, 623, "Total heating and cooling", titleOpts);
  legendRow(g, 669, 636, [th.coolP, "AHU cooling coil power, W", th.waterCool, "Water based cooling power to zones, W", th.heatP, "AHU heating coil power, W", th.waterHeat, "Water"]);
  legendRow(g, 669, 648, ["based heating power to zones, W", th.idealCool, "Ideal coolers and other local units, W", th.idealHeat, "Ideal heaters and other local units, W", th.dhw]);
  legendRow(g, 669, 660, ["Domestic hot water use, W"]);

  // ---- delivered energy
  const de = {
    chp: { color: "#ff2020", mark: "sq", values: thZero },
    distCool: { color: "#00aa00", mark: "ci", values: thZero },
    distDhw: { color: "#2020ff", mark: "tri", values: deDistDhw, w: 1.5 },
    distHeat: { color: "#a0522d", mark: "star", values: deDistHeat },
    domHw: { color: "#ff00ff", mark: "x", values: thZero },
    elCool: { color: "#33aacc", mark: "dia", values: deSmall },
    elHeat: { color: "#333333", mark: "plus", values: thZero },
    equipTen: { color: "#ff2020", mark: "triD", values: deEquipTen, every: 3, off: 1 },
    equipFac: { color: "#33cc33", mark: "diaF", values: deSmall },
    fuelCool: { color: "#3333ff", mark: "plus", values: thZero },
    fuelHeat: { color: "#cc6633", mark: "none", values: thZero },
    heatTen: { color: "#ff33cc", mark: "sq", values: thZero },
    hvac: { color: "#00aacc", mark: "ci", values: deHvac },
    lightTen: { color: "#333333", mark: "triO", values: thZero },
    lightFac: { color: "#ff2020", mark: "star", values: deLightFac, dash: "4,3" },
    pv: { color: "#33cc33", mark: "x", values: thZero, dash: "3,3" },
    wind: { color: "#3333ff", mark: "diaF", values: thZero, dash: "3,3" },
  };
  const yDE = d3.scaleLinear().domain([0, 1195]).range([899, 815]);
  frameC(g, x, yDE, 815, 910, [0, 200, 400, 600, 800, 1000]);
  const gDE = g.append("g").attr("clip-path", clip(svg, "cDE", 813, 912));
  drawLines(gDE, x, yDE, [de.chp, de.distCool, de.elCool, de.equipFac, de.wind, de.pv, de.lightFac, de.hvac, de.equipTen, de.distDhw, de.distHeat]);
  yAxisC(g, yDE, { top: 810, bottom: 910, ticks: [0, 200, 400, 600, 800, 1000], arrow: true });
  text(g, 632, 764, "Delivered Energy", titleOpts);
  legendRow(g, 669, 778, [de.chp, "CHP electricity, W", de.distCool, "District cooling, W", de.distDhw, "District DHW, W", de.distHeat, "District heating, W", de.domHw, "Domestic hot water, W"]);
  legendRow(g, 669, 789, [de.elCool, "Electric cooling, W", de.elHeat, "Electric heating, W", de.equipTen, "Equipment, tenant, W", de.equipFac, "Equipment, facility, W", de.fuelCool, "Fuel cooling, W", de.fuelHeat]);
  legendRow(g, 669, 801, ["Fuel heating, W", de.heatTen, "Heating, tenant, W", de.hvac, "HVAC aux, W", de.lightTen, "Lighting, tenant, W", de.lightFac, "Lighting, facility, W", de.pv, "PV"]);
  legendRow(g, 669, 812, ["production, W", de.wind, "Wind turbine production, W"]);
}

export default function App() {
  const ref = useRef<SVGSVGElement>(null);

  useEffect(() => {
    const svg = d3.select(ref.current);
    svg.selectAll("*").remove();
    svg.append("defs");
    svg.append("rect").attr("width", 1205).attr("height", 906).attr("fill", "#fff");

    stackPanel(svg, {
      box: [7, 10, 591, 423],
      plot: [73, 519, 44, 260],
      hours: hoursA,
      yDomain: [-410, 410],
      yAxisX: 68, yAxisTop: 19, yAxisBottom: 268,
      xAxisY: 275, dayY: 270, numY: 286,
      numTicks: d3.range(8160, 8321, 20),
      week: "Week: from 2015-12-07 to 2015-12-13", weekY: 35,
      letter: "(a)", letterY: 41,
      legY: 304, legDy: 13.45,
      layers: [
        { values: occA, side: 1, color: heatColors[1] },
        { values: equipA, side: 1, color: heatColors[2] },
        { values: wallsGainA, side: 1, color: heatColors[3] },
        { values: lightA, side: 1, color: heatColors[4] },
        { values: solarA, side: 1, color: heatColors[5] },
        { values: airA, side: -1, color: heatColors[0] },
        { values: wallsLossA, side: -1, color: heatColors[3] },
        { values: windowsA, side: -1, color: heatColors[7] },
      ],
    });

    stackPanel(svg, {
      box: [7, 486, 591, 500],
      plot: [73, 519, 520, 738],
      hours: hoursB,
      yDomain: [-495, 495],
      yAxisX: 68, yAxisTop: 497, yAxisBottom: 745,
      xAxisY: 752, dayY: 745, numY: 763,
      numTicks: d3.range(780, 921, 20),
      week: "Week: from 2015-02-02 to 2015-02-08", weekY: 511,
      letter: "(b)", letterY: 520,
      legY: 781, legDy: 13.3,
      layers: [
        { values: occB, side: 1, color: heatColors[1] },
        { values: equipB, side: 1, color: heatColors[2] },
        { values: wallsGainB, side: 1, color: heatColors[3] },
        { values: solarB, side: 1, color: heatColors[5] },
        { values: airB, side: -1, color: heatColors[0] },
        { values: wallsLossB, side: -1, color: heatColors[3] },
        { values: windowsB, side: -1, color: heatColors[7] },
      ],
    });

    panelC(svg);
  }, []);

  return (
    <svg
      ref={ref}
      width={1205}
      height={906}
      style={{ position: "absolute", left: 0, top: 0, background: "#fff" }}
    />
  );
}
